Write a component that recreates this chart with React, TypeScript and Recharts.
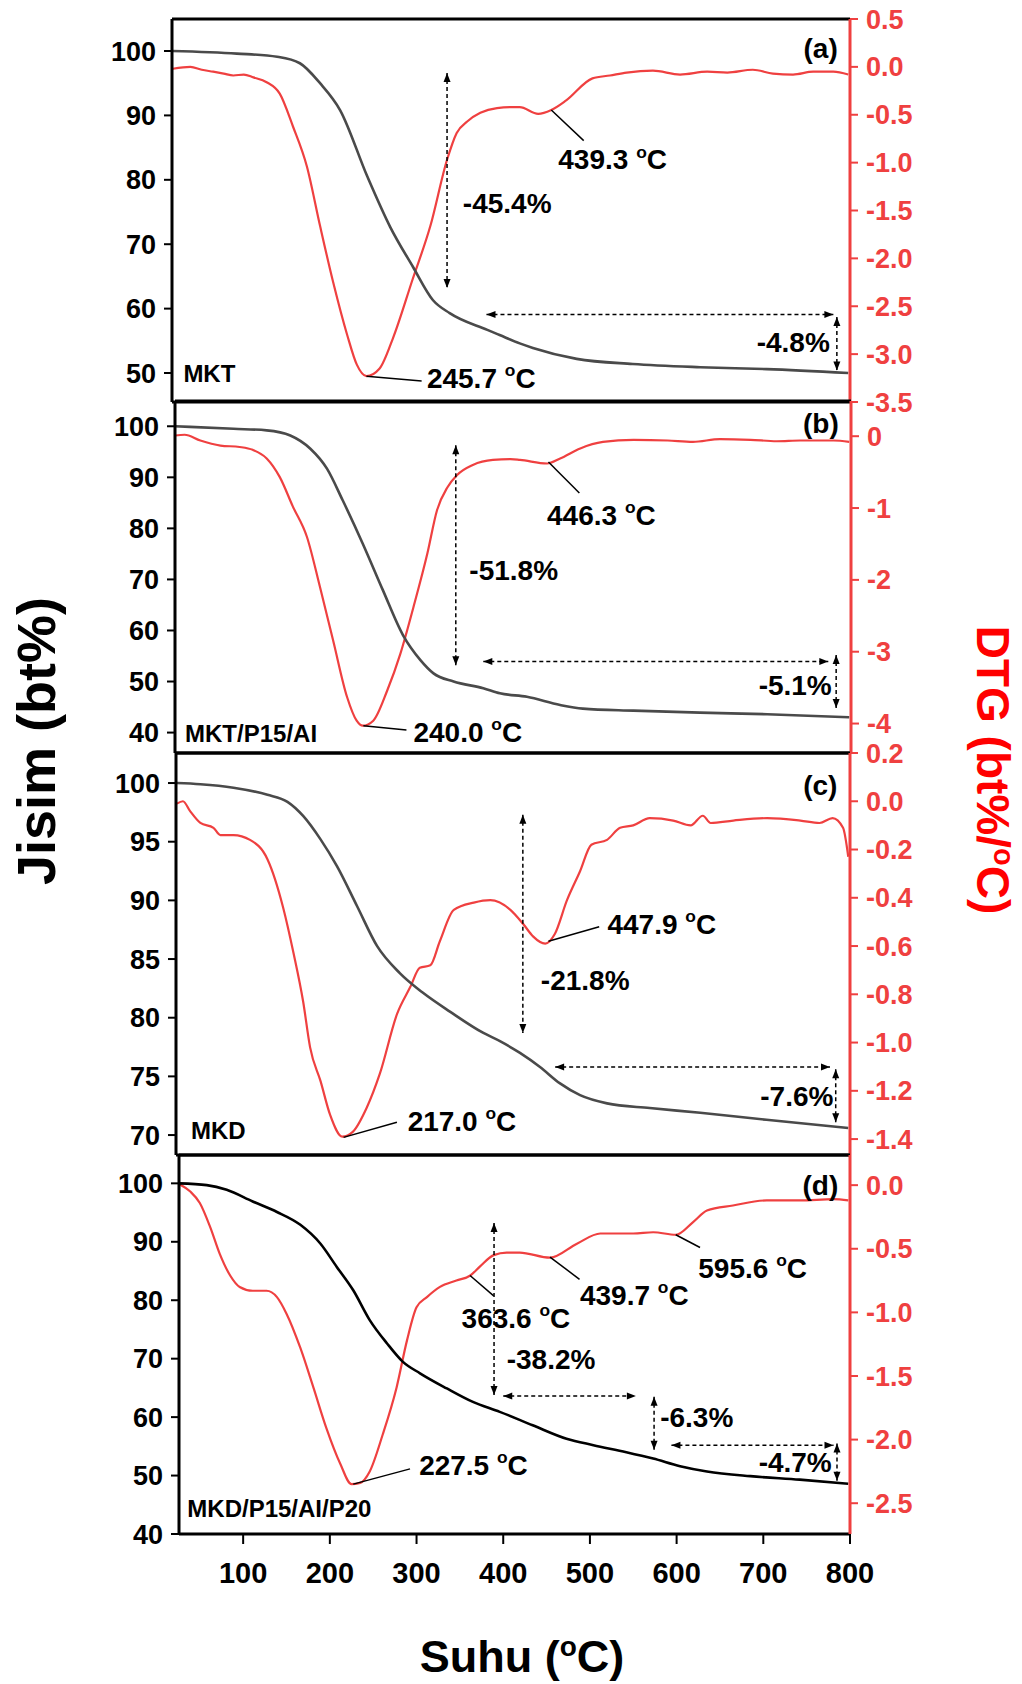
import React from 'react'
import { ComposedChart, Line, XAxis, YAxis, ReferenceLine, ReferenceDot } from 'recharts'

const FONT = "'Liberation Sans', Arial, Helvetica, sans-serif"
const RED = '#ef4040'
const GREY = '#4a4a4a'

// ---- (a) MKT ----
const tgTempA = [26, 100, 146, 172, 195, 218, 249, 275, 301, 324, 343, 386, 400, 423, 438, 488, 552, 629, 705, 798]
const tgMassA = [100, 99.6, 99.1, 98.1, 95.0, 90.8, 80.5, 72.7, 66.5, 61.3, 59.3, 56.7, 55.9, 54.6, 53.9, 52.2, 51.4, 50.9, 50.6, 50.0]
const dtgTempA = [27, 47, 60, 73, 85, 96, 108, 119, 134, 149, 164, 180, 195, 210, 226, 237, 248, 263, 278, 301, 321, 340, 351, 363, 378, 397, 415, 423, 444, 459, 476, 506, 526, 545, 575, 606, 637, 660, 689, 712, 735, 758, 781, 798]
const dtgRateA = [-0.02, 0, -0.03, -0.05, -0.07, -0.09, -0.08, -0.11, -0.16, -0.28, -0.62, -1.04, -1.66, -2.25, -2.8, -3.11, -3.23, -3.15, -2.84, -2.21, -1.66, -0.97, -0.69, -0.57, -0.48, -0.43, -0.42, -0.42, -0.49, -0.45, -0.35, -0.12, -0.09, -0.06, -0.04, -0.08, -0.05, -0.06, -0.03, -0.07, -0.08, -0.05, -0.05, -0.08]

// ---- (b) MKT/P15/AI ----
const tgTempB = [26, 93, 131, 158, 181, 200, 218, 241, 264, 287, 307, 322, 345, 379, 398, 429, 467, 493, 551, 627, 704, 798]
const tgMassB = [100, 99.5, 99.2, 98.2, 95.6, 91.7, 85.5, 77.0, 67.9, 59.1, 54.2, 51.6, 50.0, 48.7, 47.7, 47.0, 45.4, 44.7, 44.3, 43.9, 43.6, 43.0]
const dtgTempB = [26, 37, 55, 78, 100, 115, 131, 146, 161, 177, 192, 207, 223, 234, 241, 253, 269, 284, 299, 315, 326, 338, 349, 367, 390, 410, 421, 452, 467, 490, 516, 551, 590, 619, 650, 685, 715, 742, 780, 798]
const dtgRateB = [0.01, 0.02, -0.06, -0.13, -0.15, -0.19, -0.31, -0.57, -0.98, -1.4, -2.1, -2.84, -3.63, -3.96, -4.03, -3.96, -3.54, -3.03, -2.38, -1.63, -1.03, -0.71, -0.54, -0.4, -0.33, -0.32, -0.33, -0.38, -0.31, -0.17, -0.08, -0.05, -0.06, -0.08, -0.04, -0.05, -0.07, -0.06, -0.06, -0.08]

// ---- (c) MKD ----
const tgTempC = [27, 54, 92, 131, 154, 172, 192, 211, 234, 257, 283, 310, 341, 379, 398, 421, 444, 467, 490, 521, 570, 628, 704, 798]
const tgMassC = [100, 99.9, 99.6, 99.0, 98.4, 97.2, 95.2, 92.9, 89.5, 86.1, 83.8, 82.1, 80.5, 78.7, 78.0, 77.0, 75.8, 74.4, 73.4, 72.7, 72.3, 71.9, 71.3, 70.6]
const dtgTempC = [27, 34, 42, 54, 69, 77, 92, 111, 131, 149, 161, 172, 180, 192, 203, 217, 229, 245, 260, 280, 295, 306, 318, 329, 345, 368, 387, 410, 425, 436, 450, 461, 475, 490, 503, 521, 536, 551, 570, 597, 617, 631, 640, 666, 705, 743, 765, 780, 792, 798]
const dtgRateC = [-0.01, 0.0, -0.04, -0.09, -0.11, -0.14, -0.14, -0.16, -0.24, -0.44, -0.63, -0.83, -1.02, -1.16, -1.3, -1.39, -1.37, -1.27, -1.13, -0.88, -0.77, -0.69, -0.68, -0.58, -0.45, -0.42, -0.41, -0.45, -0.51, -0.56, -0.59, -0.55, -0.41, -0.29, -0.18, -0.16, -0.11, -0.1, -0.07, -0.08, -0.1, -0.06, -0.09, -0.08, -0.07, -0.08, -0.09, -0.07, -0.11, -0.23]

// ---- (d) MKD/P15/AI/P20 ----
const tgTempD = [26, 58, 81, 111, 139, 166, 189, 208, 227, 246, 266, 284, 304, 335, 365, 396, 434, 473, 504, 542, 573, 604, 635, 685, 742, 798]
const tgMassD = [100, 99.7, 98.9, 96.9, 95.1, 92.9, 89.7, 85.7, 81.7, 76.6, 72.6, 69.5, 67.5, 64.9, 62.6, 60.9, 58.6, 56.3, 55.2, 54.0, 52.9, 51.6, 50.7, 49.9, 49.3, 48.6]
const dtgTempD = [26, 39, 50, 62, 73, 85, 96, 111, 127, 139, 150, 166, 181, 196, 212, 225, 235, 246, 261, 277, 289, 300, 312, 327, 346, 362, 373, 389, 404, 419, 454, 485, 512, 550, 573, 599, 619, 635, 665, 704, 742, 781, 798]
const dtgRateD = [0.01, -0.05, -0.14, -0.33, -0.54, -0.71, -0.8, -0.83, -0.83, -0.88, -1.01, -1.28, -1.59, -1.91, -2.19, -2.35, -2.34, -2.25, -1.96, -1.59, -1.22, -0.96, -0.88, -0.8, -0.75, -0.71, -0.64, -0.55, -0.53, -0.53, -0.57, -0.46, -0.38, -0.38, -0.37, -0.39, -0.29, -0.2, -0.16, -0.12, -0.12, -0.11, -0.12]

// axis ticks
const tempTicks = [100, 200, 300, 400, 500, 600, 700, 800]
const massTicksA = [50, 60, 70, 80, 90, 100]
const massTicksB = [40, 50, 60, 70, 80, 90, 100]
const massTicksC = [70, 75, 80, 85, 90, 95, 100]
const massTicksD = [40, 50, 60, 70, 80, 90, 100]
const rateTicksA = [0.5, 0, -0.5, -1, -1.5, -2, -2.5, -3, -3.5]
const rateTicksB = [0, -1, -2, -3, -4]
const rateTicksC = [0.2, 0, -0.2, -0.4, -0.6, -0.8, -1, -1.2, -1.4]
const rateTicksD = [0, -0.5, -1, -1.5, -2, -2.5]

// mass-loss arrows (mass axis): vertical [T, top, bottom], horizontal [mass, from, to]
const vArrowsA = [[340, 96.6, 63.2], [785, 58.7, 50.4]]
const hArrowsA = [[59.1, 385, 781]]
const vArrowsB = [[347.5, 96.3, 53.2], [783, 55.2, 44.8]]
const hArrowsB = [[53.9, 379, 774]]
const vArrowsC = [[424.3, 97.3, 78.7], [783.6, 75.6, 71.1]]
const hArrowsC = [[75.8, 461.4, 777]]
const vArrowsD = [[389.4, 93.2, 63.8], [574, 63.5, 54.4], [785, 55.5, 49.1]]
const hArrowsD = [[63.6, 400, 553], [55.2, 594, 781]]

// percent labels (mass axis): [text, T, mass, anchor]
const lossLabelsA = [['-45.4%', 358, 74.8, 'start'], ['-4.8%', 777, 53.3, 'end']]
const lossLabelsB = [['-51.8%', 363, 69.9, 'start'], ['-5.1%', 778, 47.4, 'end']]
const lossLabelsC = [['-21.8%', 445, 82.4, 'start'], ['-7.6%', 781, 72.5, 'end']]
const lossLabelsD = [['-38.2%', 404, 68.2, 'start'], ['-6.3%', 581, 58.3, 'start'], ['-4.7%', 779, 50.6, 'end']]

// peak labels (DTG axis): [text, peakT, peakV, leaderT, leaderV, textT, textV]
const peaksA = [['245.7', 248, -3.23, 311, -3.28, 317, -3.35], ['439.3', 459, -0.45, 496, -0.77, 467, -1.07]]
const peaksB = [['240.0', 241.7, -4.03, 291, -4.09, 299, -4.26], ['446.3', 453.6, -0.36, 489, -0.79, 452, -1.23]]
const peaksC = [['217.0', 218.4, -1.393, 279.7, -1.33, 292, -1.365], ['447.9', 453.7, -0.58, 512, -0.52, 521.5, -0.549]]
const peaksD = [['227.5', 227, -2.35, 292.5, -2.23, 303, -2.28], ['363.6', 361.7, -0.71, 389, -0.87, 352, -1.12], ['439.7', 454, -0.565, 488, -0.74, 488.5, -0.94], ['595.6', 599, -0.39, 627, -0.49, 625, -0.73]]

// panel tag (top right) and sample name (bottom left), mass axis: [T, mass]
const tagPos = [[786, 98.9], [786, 98.6], [785.5, 99.0], [786.5, 98.0]]
const namePos = [[39, 48.65], [37.5, 38.2], [43.2, 69.7], [35.6, 42.9]]

const rows = (ts: number[], vs: number[]) => ts.map((t, i) => ({ t, v: vs[i] }))

const arrowHead = (dir: string) => (props: any) => {
  const { cx, cy } = props
  const L = 9
  const W = 3.5
  let pts = ''
  if (dir === 'up') pts = `${cx},${cy} ${cx - W},${cy + L} ${cx + W},${cy + L}`
  if (dir === 'down') pts = `${cx},${cy} ${cx - W},${cy - L} ${cx + W},${cy - L}`
  if (dir === 'left') pts = `${cx},${cy} ${cx + L},${cy - W} ${cx + L},${cy + W}`
  if (dir === 'right') pts = `${cx},${cy} ${cx - L},${cy - W} ${cx - L},${cy + W}`
  return <polygon points={pts} fill="#000" />
}

const note = (text: string, anchor: string, size: number, deg = false) => (props: any) => (
  <text x={props.cx} y={props.cy} textAnchor={anchor} fontSize={size} fontWeight={700} fontFamily={FONT} fill="#000">
    {deg ? text + ' ' : text}
    {deg && <tspan fontSize={size * 0.62} dy={-size * 0.42}>o</tspan>}
    {deg && <tspan fontSize={size} dy={size * 0.42}>C</tspan>}
  </text>
)

interface PanelProps {
  top: number; bottom: number; left: number; right: number
  tag: string; name: string; idx: number; tgColor: string
  tg: { t: number; v: number }[]; dtg: { t: number; v: number }[]
  massDomain: number[]; massTicks: number[]
  rateDomain: number[]; rateTicks: number[]; rateFmt: (v: number) => string
  vArrows: number[][]; hArrows: number[][]; losses: any[][]; peaks: any[][]
  showX?: boolean
}

function Panel(p: PanelProps) {
  const MT = 30
  const xh = p.showX ? 80 : 1
  const MB = p.showX ? 6 : 30
  const h = p.bottom - p.top + MT + MB + xh
  const tickStyle = { fill: '#000', fontSize: 27, fontWeight: 700, fontFamily: FONT }
  return (
    <div style={{ position: 'absolute', left: 0, top: p.top - MT }}>
      <ComposedChart width={1022} height={h} margin={{ top: MT, right: 0, bottom: MB, left: 0 }}>
        <XAxis
          dataKey="t" type="number" domain={[26, 800]} allowDataOverflow
          ticks={tempTicks} height={xh}
          tick={p.showX ? { ...tickStyle, fontSize: 29 } : false}
          tickLine={p.showX ? { stroke: '#000', strokeWidth: 2 } : false}
          tickSize={10} tickMargin={18}
          axisLine={{ stroke: '#000', strokeWidth: 3 }}
        />
        <YAxis
          yAxisId="left" type="number" domain={p.massDomain} allowDataOverflow
          ticks={p.massTicks} width={p.left} interval={0}
          tick={tickStyle} tickSize={8} tickMargin={8}
          tickLine={{ stroke: '#000', strokeWidth: 2 }}
          axisLine={{ stroke: '#000', strokeWidth: 3 }}
        />
        <YAxis
          yAxisId="right" orientation="right" type="number" domain={p.rateDomain} allowDataOverflow
          ticks={p.rateTicks} width={1022 - p.right} interval={0} tickFormatter={p.rateFmt}
          tick={{ ...tickStyle, fill: RED }} tickSize={8} tickMargin={8}
          tickLine={{ stroke: RED, strokeWidth: 2 }}
          axisLine={{ stroke: RED, strokeWidth: 3 }}
        />
        <ReferenceLine yAxisId="left" y={p.massDomain[1]} stroke="#000" strokeWidth={3} />
        <Line yAxisId="right" data={p.dtg} dataKey="v" type="monotone" stroke={RED} strokeWidth={2.2} dot={false} isAnimationActive={false} />
        <Line yAxisId="left" data={p.tg} dataKey="v" type="monotone" stroke={p.tgColor} strokeWidth={2.6} dot={false} isAnimationActive={false} />

        {p.vArrows.map(([t, y1, y2], i) => [
          <ReferenceLine key={`vl${i}`} yAxisId="left" segment={[{ x: t, y: y1 }, { x: t, y: y2 }]} stroke="#000" strokeWidth={1.5} strokeDasharray="4 3" />,
          <ReferenceDot key={`vu${i}`} yAxisId="left" x={t} y={y1} shape={arrowHead('up')} />,
          <ReferenceDot key={`vd${i}`} yAxisId="left" x={t} y={y2} shape={arrowHead('down')} />,
        ])}
        {p.hArrows.map(([m, x1, x2], i) => [
          <ReferenceLine key={`hl${i}`} yAxisId="left" segment={[{ x: x1, y: m }, { x: x2, y: m }]} stroke="#000" strokeWidth={1.5} strokeDasharray="4 3" />,
          <ReferenceDot key={`hu${i}`} yAxisId="left" x={x1} y={m} shape={arrowHead('left')} />,
          <ReferenceDot key={`hd${i}`} yAxisId="left" x={x2} y={m} shape={arrowHead('right')} />,
        ])}
        {p.losses.map(([txt, t, m, anchor], i) => (
          <ReferenceDot key={`ls${i}`} yAxisId="left" x={t} y={m} shape={note(txt, anchor, 28)} />
        ))}
        {p.peaks.map(([txt, pt, pv, lt, lv, tt, tv], i) => [
          <ReferenceLine key={`pl${i}`} yAxisId="right" segment={[{ x: pt, y: pv }, { x: lt, y: lv }]} stroke="#000" strokeWidth={1.5} />,
          <ReferenceDot key={`pt${i}`} yAxisId="right" x={tt} y={tv} shape={note(txt, 'start', 28, true)} />,
        ])}
        <ReferenceDot yAxisId="left" x={tagPos[p.idx][0]} y={tagPos[p.idx][1]} shape={note(p.tag, 'end', 28)} />
        <ReferenceDot yAxisId="left" x={namePos[p.idx][0]} y={namePos[p.idx][1]} shape={note(p.name, 'start', 24)} />
      </ComposedChart>
    </div>
  )
}

const fmt1 = (v: number) => v.toFixed(1)
const fmt0 = (v: number) => String(v)

export default function App() {
  return (
    <div style={{ position: 'absolute', left: 0, top: 0, width: 1022, height: 1684, background: '#fff', fontFamily: FONT }}>
      <Panel top={19} bottom={402} left={172} right={850} tag="(a)" name="MKT" idx={0} tgColor={GREY}
        tg={rows(tgTempA, tgMassA)} dtg={rows(dtgTempA, dtgRateA)}
        massDomain={[45.5, 104.97]} massTicks={massTicksA}
        rateDomain={[-3.5, 0.5]} rateTicks={rateTicksA} rateFmt={fmt1}
        vArrows={vArrowsA} hArrows={hArrowsA} losses={lossLabelsA} peaks={peaksA} />
      <Panel top={401} bottom={753} left={175} right={851} tag="(b)" name="MKT/P15/AI" idx={1} tgColor={GREY}
        tg={rows(tgTempB, tgMassB)} dtg={rows(dtgTempB, dtgRateB)}
        massDomain={[36.0, 104.95]} massTicks={massTicksB}
        rateDomain={[-4.41, 0.49]} rateTicks={rateTicksB} rateFmt={fmt0}
        vArrows={vArrowsB} hArrows={hArrowsB} losses={lossLabelsB} peaks={peaksB} />
      <Panel top={753} bottom={1155} left={176} right={850} tag="(c)" name="MKD" idx={2} tgColor={GREY}
        tg={rows(tgTempC, tgMassC)} dtg={rows(dtgTempC, dtgRateC)}
        massDomain={[68.3, 102.56]} massTicks={massTicksC}
        rateDomain={[-1.466, 0.2]} rateTicks={rateTicksC} rateFmt={fmt1}
        vArrows={vArrowsC} hArrows={hArrowsC} losses={lossLabelsC} peaks={peaksC} />
      <Panel top={1155} bottom={1534} left={179} right={850} tag="(d)" name="MKD/P15/AI/P20" idx={3} tgColor="#000"
        tg={rows(tgTempD, tgMassD)} dtg={rows(dtgTempD, dtgRateD)}
        massDomain={[40, 104.85]} massTicks={massTicksD}
        rateDomain={[-2.742, 0.237]} rateTicks={rateTicksD} rateFmt={fmt1}
        vArrows={vArrowsD} hArrows={hArrowsD} losses={lossLabelsD} peaks={peaksD} showX />
      <svg width={1022} height={1684} style={{ position: 'absolute', left: 0, top: 0, pointerEvents: 'none' }}>
        <text transform="translate(55,741) rotate(-90)" textAnchor="middle" fontSize={54} fontWeight={700} fontFamily={FONT} fill="#000">
          Jisim (bt%)
        </text>
        <text transform="translate(977,770) rotate(90)" textAnchor="middle" fontSize={46} fontWeight={700} fontFamily={FONT} fill="#ff0000">
          DTG (bt%/<tspan fontSize={29} dy={-17}>o</tspan><tspan fontSize={46} dy={17}>C)</tspan>
        </text>
        <text x={522} y={1672} textAnchor="middle" fontSize={45} fontWeight={700} fontFamily={FONT} fill="#000">
          Suhu (<tspan fontSize={28} dy={-16}>o</tspan><tspan fontSize={45} dy={16}>C)</tspan>
        </text>
      </svg>
    </div>
  )
}
